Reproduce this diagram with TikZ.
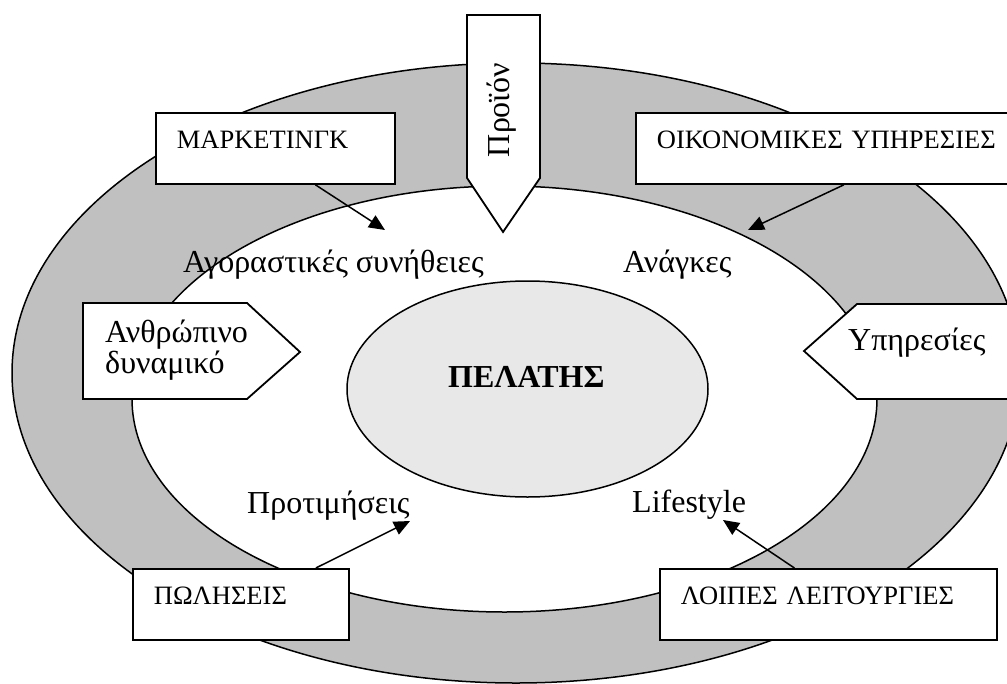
\documentclass[tikz,border=0pt]{standalone}
\usepackage{fontspec}
\setmainfont{Liberation Serif}
\usetikzlibrary{arrows.meta}
\definecolor{ringgray}{HTML}{C0C0C0}
\definecolor{coregray}{HTML}{E8E8E8}
\newcommand{\boxfont}{\fontsize{26.5}{31}\selectfont}
\newcommand{\labfont}{\fontsize{32}{31}\selectfont}
\begin{document}
\begin{tikzpicture}[x=1pt,y=-1pt,
  funcbox/.style={draw,line width=1.8pt,fill=white,font=\boxfont,align=left,
    minimum height=71pt,text height=18pt,text depth=18pt,inner xsep=21pt,anchor=north west},
  lab/.style={font=\labfont,anchor=base west,inner sep=0pt},
  arr/.style={line width=1.5pt,-{Triangle[length=16pt,width=14pt]}},
  tag/.style={draw,line width=1.8pt,fill=white}]
\useasboundingbox (0,0) rectangle (1007,683);
\clip (0,0) rectangle (1007,683);
\fill[white] (0,0) rectangle (1007,683);

% rings
\draw[line width=1.5pt,fill=ringgray] (516,373) ellipse [x radius=504pt,y radius=310pt];
\draw[line width=1.5pt,fill=white] (504.5,399) ellipse [x radius=372.5pt,y radius=213pt];
\draw[line width=1.5pt,fill=coregray] (527.5,389) ellipse [x radius=180.5pt,y radius=108pt];
\node[font=\labfont\bfseries,anchor=base west,inner sep=0pt] (pelatis) at (448,387) {ΠΕΛΑΤΗΣ};

% labels inside the ring
\node[lab] (agor) at (183,272) {Αγοραστικές συνήθειες};
\node[lab] (anagk) at (623,272) {Ανάγκες};
\node[lab] (protim) at (247,513) {Προτιμήσεις};
\node[lab] (lifest) at (632,512) {Lifestyle};

% arrow shapes
\draw[tag] (83,303) -- (247,303) -- (300,352) -- (247,399) -- (83,399) -- cycle;
\node[lab,align=left] (anthr) at (105,373) {Ανθρώπινο\\δυναμικό};
\draw[tag] (804,351) -- (857,304) -- (1020,304) -- (1020,399) -- (857,399) -- cycle;
\node[lab] (ypir) at (848,350) {Υπηρεσίες};
\draw[tag] (467,15) -- (540,15) -- (540,178) -- (503,232) -- (467,178) -- cycle;
\node[font=\labfont,rotate=90,anchor=base,inner sep=0pt] (proion) at (509,110) {Προϊόν};

% functions
\node[funcbox,text width=197pt] (mark) at (155,112) {ΜΑΡΚΕΤΙΝΓΚ};
\node[funcbox,text width=350pt] (oik) at (635,112) {ΟΙΚΟΝΟΜΙΚΕΣ ΥΠΗΡΕΣΙΕΣ};
\node[funcbox,text width=174pt] (pol) at (132,568) {ΠΩΛΗΣΕΙΣ};
\node[funcbox,text width=295pt] (loip) at (659,568) {ΛΟΙΠΕΣ ΛΕΙΤΟΥΡΓΙΕΣ};

\coordinate (mtip) at (385,230);
\coordinate (otip) at (748,230);
\coordinate (ptip) at (410,521);
\coordinate (ltip) at (723,520);
\draw[arr] ([xshift=40pt]mark.south) -- (mtip);
\draw[arr] ([xshift=12pt]oik.south) -- (otip);
\draw[arr] ([xshift=75pt]pol.north) -- (ptip);
\draw[arr] ([xshift=-34pt]loip.north) -- (ltip);
\end{tikzpicture}
\end{document}
